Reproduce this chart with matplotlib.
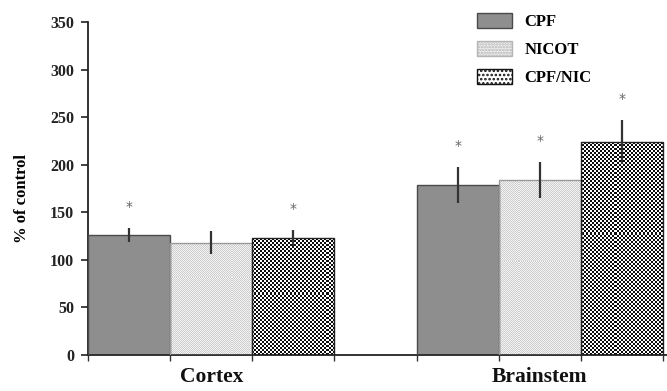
import numpy as np
import matplotlib
matplotlib.use("Agg")
from matplotlib import pyplot as plt
from matplotlib.patches import Patch

# Data
regions = ["Cortex", "Brainstem"]
groups = ["CPF", "NICOT", "CPF/NIC"]
means = {
    "CPF": [126, 179],
    "NICOT": [118, 184],
    "CPF/NIC": [123, 224],
}
errors = {
    "CPF": [7.5, 19],
    "NICOT": [12, 19],
    "CPF/NIC": [8, 23],
}
# which bars carry a significance star
starred = {
    "CPF": [True, True],
    "NICOT": [False, True],
    "CPF/NIC": [True, True],
}

plt.rcParams["font.family"] = ["Liberation Serif", "DejaVu Serif"]
plt.rcParams["font.weight"] = "bold"
plt.rcParams["hatch.linewidth"] = 1.2

W, H = 667, 391
fig = plt.figure(figsize=(W / 100, H / 100), dpi=100)
ax_l, ax_b, ax_w, ax_h = 88, 36, 579, 333  # pixels
ax = fig.add_axes([ax_l / W, ax_b / H, ax_w / W, ax_h / H])

xlim = (-0.375, 1.3872)
ylim = (0, 350)
ax.set_xlim(*xlim)
ax.set_ylim(*ylim)


def texture(cell, c1, c2):
    """Pixel checkerboard covering the whole axes, one image pixel per screen pixel."""
    i, j = np.indices((ax_h, ax_w))
    mask = ((i // cell + j // cell) % 2).astype(bool)
    img = np.empty((ax_h, ax_w, 3))
    img[mask] = c1
    img[~mask] = c2
    return img


textures = {
    "NICOT": texture(1, (0.80, 0.80, 0.80), (0.96, 0.96, 0.96)),
    "CPF/NIC": texture(2, (0.05, 0.05, 0.05), (1.0, 1.0, 1.0)),
}
fills = {"CPF": "#8e8e8e", "NICOT": "#e6e6e6", "CPF/NIC": "#808080"}
edges_c = {"CPF": "#4a4a4a", "NICOT": "#9a9a9a", "CPF/NIC": "#222222"}

x = np.arange(len(regions))
width = 0.25
for i, g in enumerate(groups):
    pos = x + (i - 1) * width
    bars = ax.bar(pos, means[g], width, color=fills[g], linewidth=0, zorder=2)
    if g in textures:
        for b in bars:
            im = ax.imshow(textures[g], extent=(*xlim, *ylim), aspect="auto",
                           interpolation="nearest", origin="lower", zorder=2.5)
            im.set_clip_path(b)
    ax.bar(pos, means[g], width, fill=False, edgecolor=edges_c[g], linewidth=1.0, zorder=3)
    ax.errorbar(pos, means[g], yerr=errors[g], fmt="none", ecolor="#333333",
                elinewidth=1.6, capsize=0, zorder=4)
    for p, m, e, s in zip(pos, means[g], errors[g], starred[g]):
        if s:
            ax.text(p, m + e + 22, "*", ha="center", va="center", fontsize=10,
                    color="#666666", fontweight="normal", family="DejaVu Sans")

ax.set_xlim(*xlim)
ax.set_ylim(*ylim)
ax.set_yticks(np.arange(0, 351, 50))
ax.tick_params(axis="y", direction="out", length=5, width=1.2, pad=5,
               labelsize=11.5, colors="#222222")

ax.set_xticks(x)
ax.set_xticklabels(regions, fontsize=15.5, fontweight="bold")
ax.tick_params(axis="x", length=0, pad=9, colors="#111111")
bar_edges = np.concatenate([x[k] + np.arange(-1.5, 1.6, 1.0) * width for k in range(len(x))])
ax.set_xticks(bar_edges, minor=True)
ax.tick_params(axis="x", which="minor", direction="out", length=4, width=1.0,
               color="#333333")

ax.set_ylabel("% of control", fontsize=12, fontweight="bold")
ax.yaxis.set_label_coords(-0.1, 0.47)

for side in ["top", "right"]:
    ax.spines[side].set_visible(False)
for side in ["left", "bottom"]:
    ax.spines[side].set_linewidth(1.3)
    ax.spines[side].set_color("#222222")

handles = [
    Patch(facecolor=fills["CPF"], edgecolor=edges_c["CPF"], label="CPF"),
    Patch(facecolor="#f0f0f0", edgecolor="#b5b5b5", hatch="......", label="NICOT"),
    Patch(facecolor="white", edgecolor="#111111", hatch="....", label="CPF/NIC"),
]
fig.legend(handles=handles, loc="upper left", bbox_to_anchor=(477 / W, 1 - 13 / H),
           frameon=False, handlelength=2.1, handleheight=1.05,
           labelspacing=0.62, handletextpad=0.75, borderpad=0, borderaxespad=0,
           prop={"weight": "bold", "size": 12})

fig.savefig("out.png", dpi=100)
